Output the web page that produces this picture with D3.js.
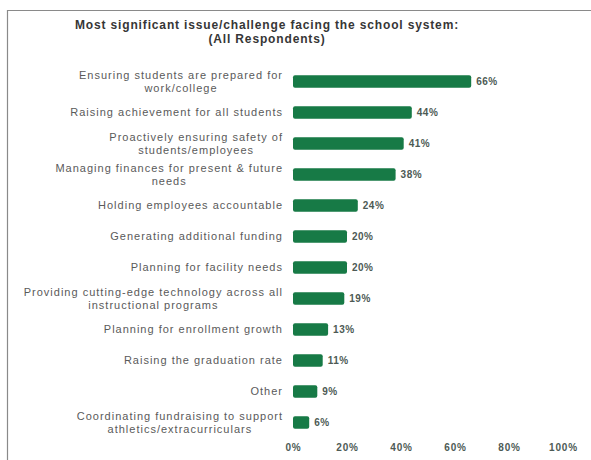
<!DOCTYPE html>
<head>
  <meta charset = "utf-8">
  <title>Most significant issue</title>
  <script src = "https://cdn.jsdelivr.net/npm/d3@7"></script>
  <style>
    body { margin: 0; background: #fff; }
  </style>
</head>

<body>
  <script type="text/javascript">
    var WIDTH = 591;
    var HEIGHT = 460;

    // data
    var categories = [
      ["Ensuring students are prepared for", "work/college"],
      ["Raising achievement for all students"],
      ["Proactively ensuring safety of", "students/employees"],
      ["Managing finances for present & future", "needs"],
      ["Holding employees accountable"],
      ["Generating additional funding"],
      ["Planning for facility needs"],
      ["Providing cutting-edge technology across all", "instructional programs"],
      ["Planning for enrollment growth"],
      ["Raising the graduation rate"],
      ["Other"],
      ["Coordinating fundraising to support", "athletics/extracurriculars"]
    ];
    var values = [66, 44, 41, 38, 24, 20, 20, 19, 13, 11, 9, 6];
    var ticks = [0, 20, 40, 60, 80, 100];
    var titleLines = ["Most significant issue/challenge facing the school system:", "(All Respondents)"];

    var FONT = "Liberation Sans, Arial, sans-serif";

    var svg = d3.select("body").append("svg")
                .attr("width",  WIDTH)
                .attr("height", HEIGHT);

    // frame of the scanned chart box
    svg.append("path")
       .attr("d", "M7.5," + HEIGHT + "V10.5H" + WIDTH)
       .attr("fill", "none")
       .attr("stroke", "#8a8a8a")
       .attr("stroke-width", 1.2);

    var x = d3.scaleLinear().domain([0, 100]).range([293, 563]);
    var y = d3.scaleBand()
              .domain(d3.range(categories.length))
              .range([66, 438])
              .paddingInner(0.6)
              .paddingOuter(0.3);

    //title
    svg.selectAll("text.title")
       .data(titleLines)
       .enter().append("text")
       .attr("class", "title")
       .attr("x", 267)
       .attr("y", function(d, i){ return 29 + i * 14; })
       .attr("text-anchor", "middle")
       .attr("font-family", FONT)
       .attr("font-weight", "bold")
       .attr("font-size", 12)
       .attr("letter-spacing", 0.85)
       .attr("fill", "#363636")
       .text(function(d){ return d; });

    //bars
    svg.selectAll("rect.bar")
       .data(values)
       .enter().append("rect")
       .attr("class", "bar")
       .attr("x", x(0))
       .attr("y", function(d, i){ return y(i); })
       .attr("width", function(d){ return x(d) - x(0); })
       .attr("height", y.bandwidth())
       .attr("rx", 2)
       .attr("fill", "#177a46");

    //value labels
    svg.selectAll("text.val")
       .data(values)
       .enter().append("text")
       .attr("class", "val")
       .attr("x", function(d){ return x(d) + 5; })
       .attr("y", function(d, i){ return y(i) + y.bandwidth() / 2; })
       .attr("dy", "0.35em")
       .attr("font-family", FONT)
       .attr("font-weight", "bold")
       .attr("font-size", 10)
       .attr("letter-spacing", 0.5)
       .attr("fill", "#4d5a55")
       .text(function(d){ return d + "%"; });

    //category labels, lines centered on each other, block right aligned
    var LABEL_RIGHT = 283;
    var LINE_H = 13;
    var lab = svg.selectAll("text.cat")
                 .data(categories)
                 .enter().append("text")
                 .attr("class", "cat")
                 .attr("text-anchor", "middle")
                 .attr("font-family", FONT)
                 .attr("font-size", 11)
                 .attr("letter-spacing", 1)
                 .attr("fill", "#5a5a5a");

    lab.each(function(lines, i){
      var t = d3.select(this);
      var cy = y(i) + y.bandwidth() / 2;
      var top = cy - (lines.length - 1) * LINE_H / 2;
      lines.forEach(function(s, j){
        t.append("tspan")
         .attr("y", top + j * LINE_H)
         .attr("dy", "0.35em")
         .text(s);
      });
      var maxW = 0;
      t.selectAll("tspan").each(function(){
        maxW = Math.max(maxW, this.getComputedTextLength());
      });
      t.selectAll("tspan").attr("x", LABEL_RIGHT - maxW / 2);
    });

    //x axis (labels only)
    var axis = svg.append("g")
                  .attr("transform", "translate(0,448)")
                  .call(d3.axisBottom(x).tickValues(ticks)
                          .tickFormat(function(d){ return d + "%"; })
                          .tickSize(0));
    axis.select(".domain").remove();
    axis.selectAll("text")
        .attr("font-family", FONT)
        .attr("font-weight", "bold")
        .attr("font-size", 10)
        .attr("letter-spacing", 0.8)
        .attr("fill", "#4d5a55")
        .attr("dy", "0");
  </script>
</body>
